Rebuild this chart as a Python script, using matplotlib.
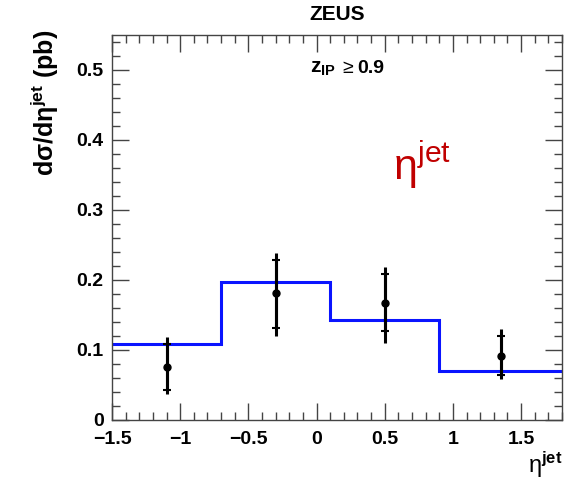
import matplotlib
matplotlib.use("Agg")
import matplotlib.pyplot as plt
import numpy as np
from matplotlib.ticker import MultipleLocator

plt.rcParams['font.family'] = ['Liberation Sans', 'DejaVu Sans']
plt.rcParams['mathtext.fontset'] = 'custom'
plt.rcParams['mathtext.rm'] = 'Liberation Sans'
plt.rcParams['mathtext.it'] = 'Liberation Sans'
plt.rcParams['mathtext.bf'] = 'Liberation Sans:bold'

# Theory prediction (histogram)
bin_edges = [-1.5, -0.7, 0.1, 0.9, 1.8]
theory = [0.108, 0.197, 0.143, 0.070]

# Measured cross sections
eta_points = [-1.1, -0.3, 0.5, 1.35]
xsec = [0.076, 0.181, 0.167, 0.092]
stat_lo = [0.043, 0.132, 0.127, 0.064]
stat_hi = [0.109, 0.229, 0.208, 0.120]
tot_lo = [0.037, 0.120, 0.110, 0.059]
tot_hi = [0.118, 0.239, 0.219, 0.130]

fig = plt.figure(figsize=(5.75, 4.83), dpi=100)
ax = fig.add_axes([112/575, 1 - 420/483, 450/575, 385/483])

ax.stairs(theory, bin_edges, color='#0a14ff', lw=2.2, baseline=None)

x = np.array(eta_points)
y = np.array(xsec)
# total uncertainties (no caps)
ax.vlines(x, tot_lo, tot_hi, color='black', lw=2.2)
# statistical uncertainties with caps
ax.errorbar(x, y, yerr=[y - np.array(stat_lo), np.array(stat_hi) - y],
            fmt='o', color='black', ms=5, elinewidth=2.2, capsize=3, capthick=1.5)

ax.set_xlim(-1.5, 1.8)
ax.set_ylim(0, 0.55)
ax.xaxis.set_minor_locator(MultipleLocator(0.1))
ax.yaxis.set_minor_locator(MultipleLocator(0.02))
ax.tick_params(which='both', direction='in', top=True, right=True,
               color='#444444', width=1.0)
ax.tick_params(which='major', length=12)
ax.tick_params(which='minor', length=6)
ax.tick_params(axis='x', which='major', pad=8)
ax.tick_params(axis='y', which='major', pad=6)
ax.set_xticks([-1.5, -1, -0.5, 0, 0.5, 1, 1.5])
ax.set_xticklabels(['\u22121.5', '\u22121', '\u22120.5', '0', '0.5', '1', '1.5'],
                   fontweight='bold', fontsize=14)
ax.set_yticks([0, 0.1, 0.2, 0.3, 0.4, 0.5])
ax.set_yticklabels(['0', '0.1', '0.2', '0.3', '0.4', '0.5'], fontweight='bold',
                   fontsize=14)
for s in ax.spines.values():
    s.set_color('#444444')
    s.set_linewidth(1.0)

fig.text(337/575, 1 - 14/483, 'ZEUS', ha='center', va='center',
         fontsize=15, fontweight='bold')
ax.text(0.44, 0.912, r'$\mathbf{z_{IP}}$', transform=ax.transAxes,
        fontsize=15, fontweight='bold', ha='left', va='center')
ax.text(0.513, 0.912, '\u2265', transform=ax.transAxes,
        fontsize=14, ha='left', va='center')
ax.text(0.545, 0.912, '0.9', transform=ax.transAxes,
        fontsize=14, fontweight='bold', ha='left', va='center')
ax.text(0.625, 0.662, r'$\mathrm{\eta}^{\mathrm{jet}}$', transform=ax.transAxes,
        fontsize=31, color='#c00000', ha='left', va='center')
fig.text(45/575, 1 - 30/483, r'$\mathbf{d\sigma/d\eta^{jet}}$ (pb)', rotation=90,
         ha='center', va='top', fontsize=18, fontweight='bold')
fig.text(562/575, 1 - 465/483, r'$\mathrm{\eta}^{\mathbf{jet}}$', ha='right',
         va='center', fontsize=17)

fig.savefig('out.png', dpi=100)
